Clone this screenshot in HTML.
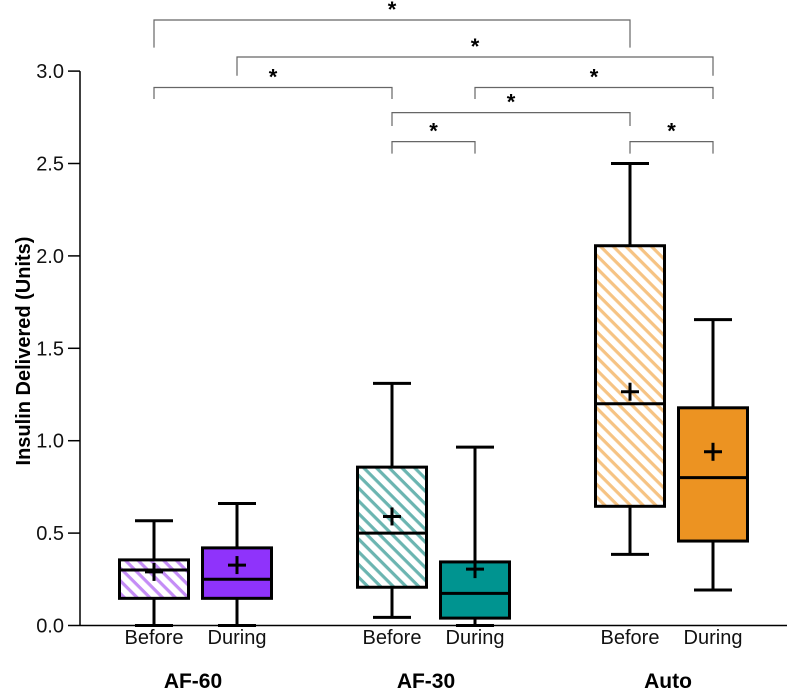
<!DOCTYPE html>
<html><head><meta charset="utf-8"><style>
html,body{margin:0;padding:0;background:#fff}
svg{display:block;font-family:"Liberation Sans",Arial,sans-serif}
</style></head><body>
<svg id="chart" width="787" height="698" viewBox="0 0 787 698" xmlns="http://www.w3.org/2000/svg">
<defs>
<pattern id="hp" patternUnits="userSpaceOnUse" width="9" height="9" patternTransform="rotate(45)"><rect width="9" height="9" fill="#fff"/><rect width="9" height="3.2" fill="#c48cf6"/></pattern>
<pattern id="ht" patternUnits="userSpaceOnUse" width="9" height="9" patternTransform="rotate(45)"><rect width="9" height="9" fill="#fff"/><rect width="9" height="3.2" fill="#6bb5b1"/></pattern>
<pattern id="ho" patternUnits="userSpaceOnUse" width="9" height="9" patternTransform="rotate(45)"><rect width="9" height="9" fill="#fff"/><rect width="9" height="3.2" fill="#f6c383"/></pattern>
</defs>
<g id="plot"></g>
</svg>
<script>
const categories = ["AF-60 Before","AF-60 During","AF-30 Before","AF-30 During","Auto Before","Auto During"];
const xLabels = ["Before","During","Before","During","Before","During"];
const groups = ["AF-60","AF-30","Auto"];
const mins = [0, 0, 0.044, 0, 0.385, 0.192];
const q1s = [0.147, 0.147, 0.207, 0.04, 0.645, 0.457];
const medians = [0.30, 0.25, 0.50, 0.174, 1.20, 0.80];
const q3s = [0.355, 0.42, 0.857, 0.344, 2.055, 1.178];
const maxs = [0.567, 0.66, 1.31, 0.965, 2.50, 1.655];
const means = [0.29, 0.327, 0.59, 0.305, 1.265, 0.94];
const yTicks = [0, 0.5, 1.0, 1.5, 2.0, 2.5, 3.0];
const sigFrom = [0, 1, 0, 3, 2, 2, 4];
const sigTo = [4, 5, 2, 5, 4, 3, 5];
const sigLevel = [0, 1, 2, 2, 3, 4, 4];

const NS="http://www.w3.org/2000/svg";
const g=document.getElementById('plot');
const y=v=>625.5-v*184.8;
const centers=[154,237,392,475,630,713];
const x=i=>centers[i];
const fills=['url(#hp)','#8f33fb','url(#ht)','#009490','url(#ho)','#ec9322'];
function mk(t,a,p){const e=document.createElementNS(NS,t);for(const k in a)e.setAttribute(k,a[k]);(p||g).appendChild(e);return e;}

const ya=mk('line',{x1:80,y1:y(3),x2:80,y2:y(0),stroke:'#000','stroke-width':1.5});


const xa=mk('line',{x1:80,y1:y(0),x2:787,y2:y(0),stroke:'#000','stroke-width':1.5});


yTicks.forEach(v=>{
  const tk=mk('line',{x1:68,y1:y(v),x2:80,y2:y(v),stroke:'#000','stroke-width':1.5});
  
  
  const t=mk('text',{x:64,y:y(v)+7,'text-anchor':'end','font-size':20,fill:'#111'});
  t.textContent=v.toFixed(1);
  
  
});
const yt=mk('text',{x:0,y:0,'text-anchor':'middle','font-size':20,'font-weight':'bold',transform:'translate(30,351) rotate(-90)'});
yt.textContent='Insulin Delivered (Units)';



categories.forEach((c,i)=>{
  const cx=x(i), bg=mk('g',{});
  
  
  const st={stroke:'#000','stroke-width':3};
  mk('line',Object.assign({x1:cx,x2:cx,y1:y(maxs[i]),y2:y(q3s[i])},st),bg);
  mk('line',Object.assign({x1:cx,x2:cx,y1:y(q1s[i]),y2:y(mins[i])},st),bg);
  mk('line',Object.assign({x1:cx-19,x2:cx+19,y1:y(maxs[i]),y2:y(maxs[i])},st),bg);
  mk('line',Object.assign({x1:cx-19,x2:cx+19,y1:y(mins[i]),y2:y(mins[i])},st),bg);
  mk('rect',Object.assign({x:cx-34.5,y:y(q3s[i]),width:69,height:y(q1s[i])-y(q3s[i]),fill:fills[i]},st),bg);
  mk('line',Object.assign({x1:cx-34.5,x2:cx+34.5,y1:y(medians[i]),y2:y(medians[i])},st),bg);
  const my=y(means[i]);
  mk('line',{x1:cx-9,x2:cx+9,y1:my,y2:my,stroke:'#000','stroke-width':3},bg);
  mk('line',{x1:cx,x2:cx,y1:my-9,y2:my+9,stroke:'#000','stroke-width':3},bg);
  const t=mk('text',{x:cx,y:644,'text-anchor':'middle','font-size':20,fill:'#111'});
  t.textContent=xLabels[i];
  
  
});
groups.forEach((gname,k)=>{
  const t=mk('text',{x:[193,426,668][k],y:688,'text-anchor':'middle','font-size':21,'font-weight':'bold'});
  t.textContent=gname;
  
  
});
const levelY=[20,57,87.5,112.6,141.6];
const levelDrop=[47.6,75.7,99,126,153.6];
sigFrom.forEach((a,k)=>{
  const b=sigTo[k], L=sigLevel[k], x1=x(a), x2=x(b), yy=levelY[L];
  const p=mk('path',{d:`M${x1},${levelDrop[L]}V${yy}H${x2}V${levelDrop[L]}`,fill:'none',stroke:'#666','stroke-width':1.2});
  
  
  const s=mk('text',{x:(x1+x2)/2,y:yy-3,'text-anchor':'middle','font-size':22,'font-weight':'bold'});
  s.textContent='*';
  
  
});
</script>
</body></html>
